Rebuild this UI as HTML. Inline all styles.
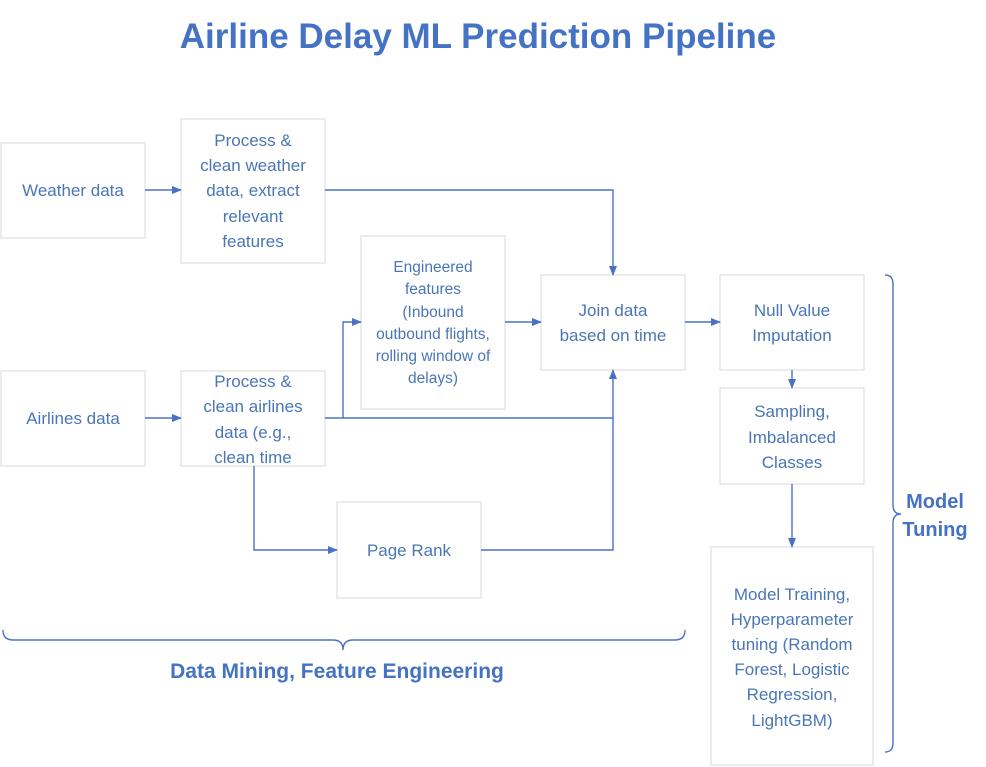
<!DOCTYPE html>
<html><head><meta charset="utf-8"><style>
body{margin:0;background:#fff;}
svg{display:block;font-family:"Liberation Sans",sans-serif;}
.b{fill:#fff;stroke:#e6e6e9;stroke-width:1.5}
.t{fill:#4a76b6;font-size:17px;text-anchor:middle}
.s{fill:#4a76b6;font-size:15.5px;text-anchor:middle}
.l{stroke:#4a72c4;stroke-width:1.4;fill:none}
</style></head><body>
<svg width="986" height="767" viewBox="0 0 986 767">
<defs><marker id="a" markerWidth="10" markerHeight="10" refX="9" refY="5" orient="auto" markerUnits="userSpaceOnUse"><path d="M0,1 L10,5 L0,9z" fill="#4a72c4"/></marker></defs>
<text x="478" y="48" text-anchor="middle" font-size="35" font-weight="bold" fill="#4472c4">Airline Delay ML Prediction Pipeline</text>

<rect class="b" x="1" y="143" width="144" height="95"/>
<text class="t" x="73" y="196">Weather data</text>
<rect class="b" x="181" y="119" width="144" height="144"/>
<text class="t" x="253" y="146">Process &amp;</text>
<text class="t" x="253" y="171">clean weather</text>
<text class="t" x="253" y="196">data, extract</text>
<text class="t" x="253" y="222">relevant</text>
<text class="t" x="253" y="247">features</text>

<rect class="b" x="1" y="371" width="144" height="95"/>
<text class="t" x="73" y="424">Airlines data</text>
<rect class="b" x="181" y="371" width="144" height="95"/>
<text class="t" x="253" y="387">Process &amp;</text>
<text class="t" x="253" y="412">clean airlines</text>
<text class="t" x="253" y="438">data (e.g.,</text>
<text class="t" x="253" y="463">clean time</text>

<rect class="b" x="361" y="236" width="144" height="173"/>
<text class="s" x="433" y="272">Engineered</text>
<text class="s" x="433" y="294">features</text>
<text class="s" x="433" y="317">(Inbound</text>
<text class="s" x="433" y="339">outbound flights,</text>
<text class="s" x="433" y="361">rolling window of</text>
<text class="s" x="433" y="383">delays)</text>

<rect class="b" x="541" y="275" width="144" height="95"/>
<text class="t" x="613" y="316">Join data</text>
<text class="t" x="613" y="341">based on time</text>

<rect class="b" x="337" y="502" width="144" height="96"/>
<text class="t" x="409" y="556">Page Rank</text>

<rect class="b" x="720" y="275" width="144" height="95"/>
<text class="t" x="792" y="316">Null Value</text>
<text class="t" x="792" y="341">Imputation</text>
<rect class="b" x="720" y="388" width="144" height="96"/>
<text class="t" x="792" y="417">Sampling,</text>
<text class="t" x="792" y="443">Imbalanced</text>
<text class="t" x="792" y="468">Classes</text>
<rect class="b" x="711" y="547" width="162" height="218"/>
<text class="t" x="792" y="600">Model Training,</text>
<text class="t" x="792" y="625">Hyperparameter</text>
<text class="t" x="792" y="650">tuning (Random</text>
<text class="t" x="792" y="675">Forest, Logistic</text>
<text class="t" x="792" y="700">Regression,</text>
<text class="t" x="792" y="726">LightGBM)</text>

<path class="l" d="M145,190 H181" marker-end="url(#a)"/>
<path class="l" d="M325,190 H613 V275" marker-end="url(#a)"/>
<path class="l" d="M145,418 H181" marker-end="url(#a)"/>
<path class="l" d="M325,418 H613"/>
<path class="l" d="M481,550 H613 V370" marker-end="url(#a)"/>
<path class="l" d="M343,418 V322 H361" marker-end="url(#a)"/>
<path class="l" d="M505,322 H541" marker-end="url(#a)"/>
<path class="l" d="M254,466 V550 H337" marker-end="url(#a)"/>
<path class="l" d="M685,322 H720" marker-end="url(#a)"/>
<path class="l" d="M792,370 V388" marker-end="url(#a)"/>
<path class="l" d="M792,484 V547" marker-end="url(#a)"/>

<path class="l" d="M3,630 Q3,640 13,640 H333 Q343,640 343,650 Q343,640 353,640 H675 Q685,640 685,630"/>
<text x="337" y="678" text-anchor="middle" font-size="21" font-weight="bold" fill="#4472c4">Data Mining, Feature Engineering</text>

<path class="l" d="M885,275 Q893,275 893,284 V505 Q893,514 901,514 Q893,514 893,523 V743 Q893,752 885,752"/>
<text x="935" y="508" text-anchor="middle" font-size="20" font-weight="bold" fill="#4472c4">Model</text>
<text x="935" y="536" text-anchor="middle" font-size="20" font-weight="bold" fill="#4472c4">Tuning</text>
</svg>
</body></html>
